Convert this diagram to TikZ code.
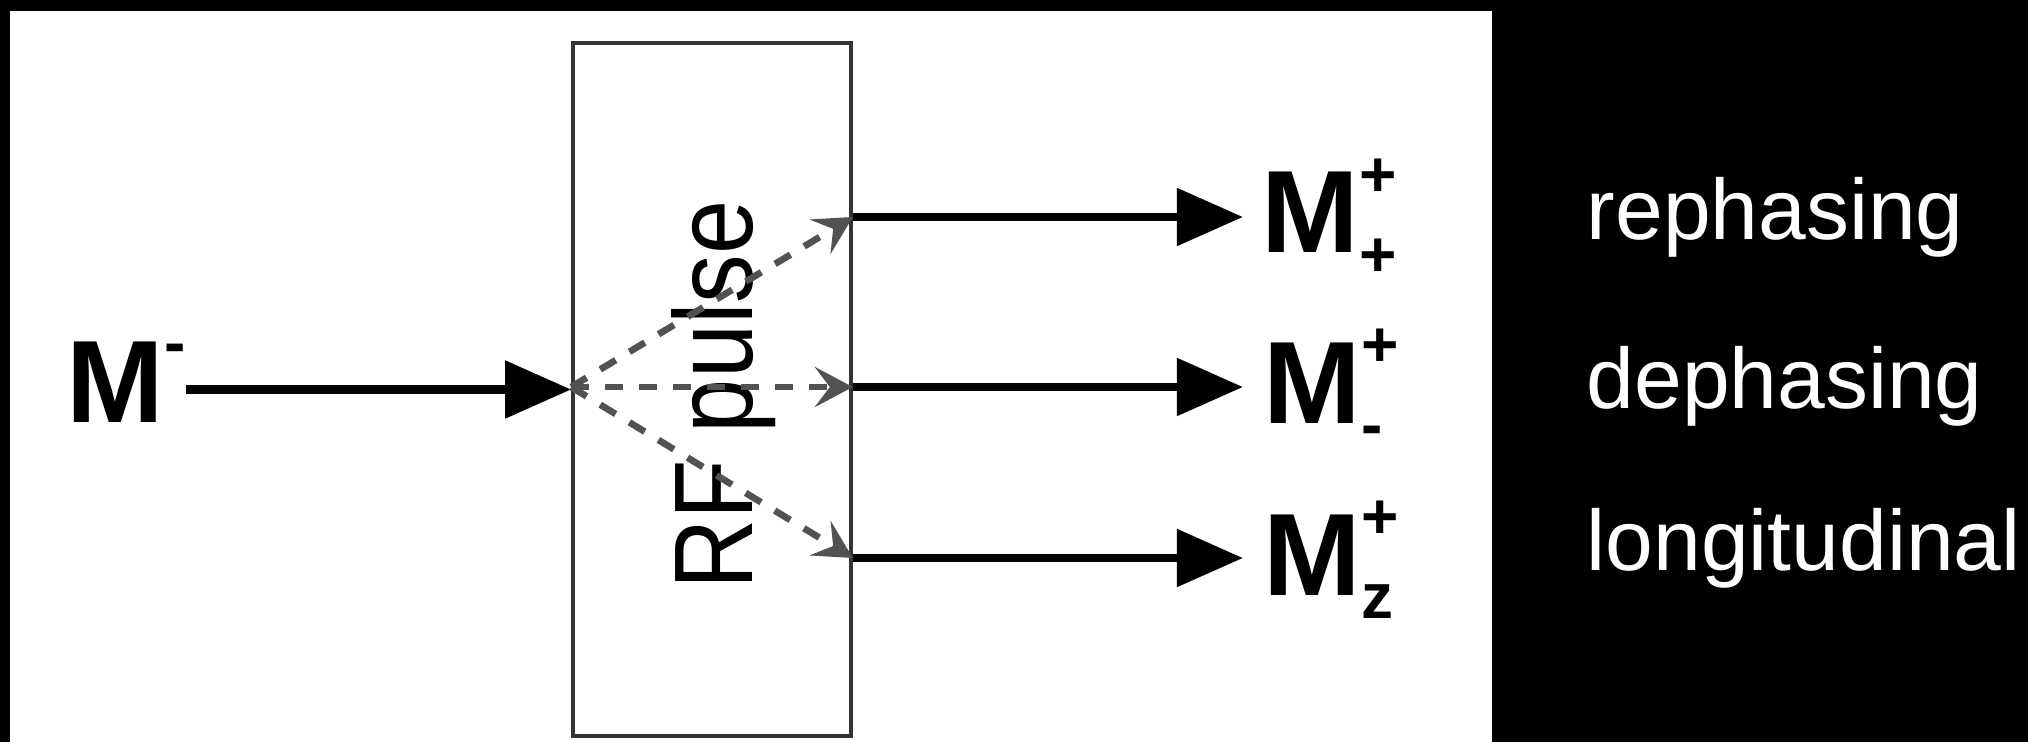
\documentclass[tikz,border=0pt]{standalone}
\usepackage{fontspec}
\setmainfont{Liberation Sans}
\usetikzlibrary{arrows.meta,calc}
\newcommand{\supfont}{\fontsize{18.2}{20}\selectfont\bfseries}
\newcommand{\magn}[2]{M\rlap{\raisebox{0.56cm}{\supfont #1}}\raisebox{-0.23cm}{\supfont #2}}
\tikzset{
	lab/.style={anchor=base west, inner sep=0, font=\fontsize{33.3}{40}\selectfont\bfseries},
	note/.style={anchor=base west, inner sep=0, text=white, font=\fontsize{24.4}{30}\selectfont},
	fat/.style={line width=2.4pt, -{Triangle[length=0.66cm,width=0.56cm]}},
	split/.style={line width=1.9pt, black!68, dash pattern=on 0.18cm off 0.16cm, -{Stealth[length=0.38cm,width=0.4cm,inset=0.15cm]}}
}
\begin{document}
\begin{tikzpicture}[x=0.01cm,y=0.01cm]
		\fill[black] (0,0) rectangle (2028,742);
		\fill[white] (10,0) rectangle (1492,731);
		\node[draw=black!80, line width=1pt, minimum width=2.78cm, minimum height=6.93cm, inner sep=0] (pulse) at (712,352.5) {};
		\node[rotate=90, anchor=base, inner sep=0, font=\fontsize{31.8}{36}\selectfont] (rf) at (752,347) {\scalebox{0.87}[1]{RF pulse}};
		\coordinate (t1) at (1243,525);
		\coordinate (t2) at (1243,355);
		\coordinate (t3) at (1243,184);
		\node[lab] (Min) at (66,320) {M\raisebox{0.57cm}{\supfont -}};
		\draw[fat] (Min.east |- pulse.west) -- (pulse.west);
		\foreach \i in {1,2,3} {
			\draw[split] (pulse.west |- t2) -- (pulse.east |- t\i);
			\draw[fat] (pulse.east |- t\i) -- (t\i);
		}
		\node[lab] (Mrep) at ($(t1)+(18,-36)$) {\magn{+}{+}};
		\node[lab] (Mdep) at ($(t2)+(20,-36)$) {\magn{+}{-}};
		\node[lab] (Mlon) at ($(t3)+(20,-37)$) {\magn{+}{z}};
		\node[note] (reph) at (1586,502) {rephasing};
		\node[note] (deph) at (1586,334) {dephasing};
		\node[note] (long) at (1586,172) {longitudinal};
\end{tikzpicture}
\end{document}
